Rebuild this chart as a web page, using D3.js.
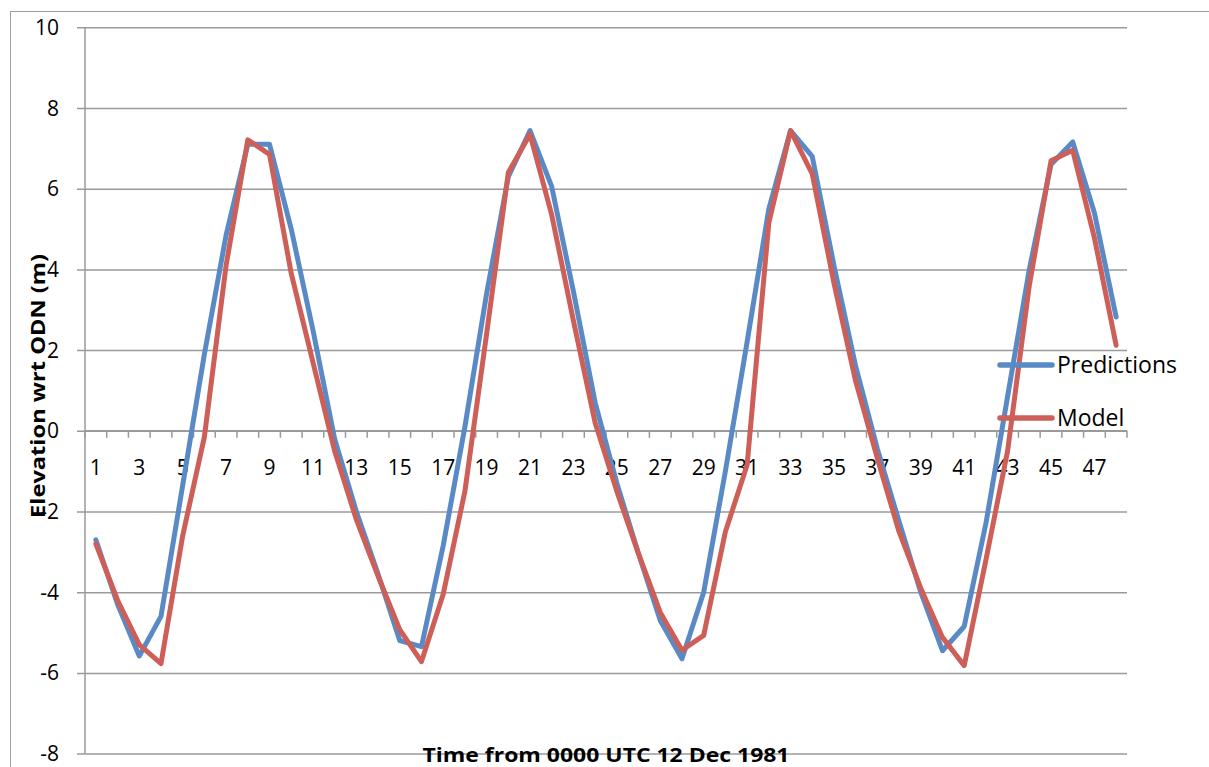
<!DOCTYPE html>
<html>
<head>
<meta charset="utf-8">
<script src="https://cdn.jsdelivr.net/npm/d3@7"></script>
<style>
  html, body { margin: 0; padding: 0; background: #fff; }
  svg { display: block; }
  text { font-family: "Open Sans", "Liberation Sans", sans-serif; fill: #000; }
</style>
</head>
<body>
<svg id="chart" width="1209" height="767"></svg>
<script>
const categories = [1,2,3,4,5,6,7,8,9,10,11,12,13,14,15,16,17,18,19,20,21,22,23,24,
                    25,26,27,28,29,30,31,32,33,34,35,36,37,38,39,40,41,42,43,44,45,46,47,48];
const xTickLabels = [1,3,5,7,9,11,13,15,17,19,21,23,25,27,29,31,33,35,37,39,41,43,45,47];
const yTicks = [-8,-6,-4,-2,0,2,4,6,8,10];
const predictions = [-2.7,-4.3,-5.58,-4.6,-1.35,1.9,4.85,7.1,7.1,5.0,
                     2.5,-0.2,-2.0,-3.55,-5.2,-5.35,-2.85,0.1,3.4,6.3,
                     7.44,6.05,3.45,0.7,-1.3,-3.05,-4.7,-5.65,-4.0,-1.0,
                     2.2,5.5,7.44,6.8,4.1,1.6,-0.45,-2.25,-4.0,-5.45,
                     -4.85,-2.3,0.85,4.0,6.6,7.16,5.4,2.82];
const model = [-2.8,-4.2,-5.3,-5.77,-2.6,-0.15,4.1,7.21,6.85,3.9,
               1.7,-0.5,-2.2,-3.6,-4.93,-5.72,-4.05,-1.5,2.4,6.4,
               7.35,5.35,2.73,0.2,-1.5,-3.05,-4.5,-5.44,-5.07,-2.5,
               -0.85,5.15,7.44,6.37,3.66,1.23,-0.68,-2.5,-3.9,-5.12,
               -5.82,-3.2,-0.5,3.6,6.69,6.95,4.78,2.12];
const seriesNames = ["Predictions", "Model"];
const seriesColors = ["#5a8ac6", "#cd5f58"];

(function () {
const svg = d3.select("#chart");
const pL = 85, pR = 1127, pT = 27.3, pB = 753.6;

const x = d3.scaleBand().domain(categories).range([pL, pR]).padding(0);
const y = d3.scaleLinear().domain([-8, 10]).range([pB, pT]);
const cx = c => x(c) + x.bandwidth() / 2;

// outer frame
svg.append("rect").attr("x", 10.5).attr("y", 11.5).attr("width", 1260).attr("height", 800)
  .attr("fill", "none").attr("stroke", "#a0a0a0").attr("stroke-width", 1);

// horizontal gridlines via axis
const yAxis = d3.axisLeft(y).tickValues(yTicks).tickSize(-(pR - pL)).tickPadding(0).tickFormat("");
const gy = svg.append("g").attr("transform", `translate(${pL},0)`).call(yAxis);
gy.select(".domain").remove();
gy.selectAll(".tick line").attr("stroke", "#9a9a9a").attr("stroke-width", 1.5)
  .attr("x1", -8);

// y tick labels
svg.append("g").selectAll("text").data(yTicks).join("text")
  .attr("x", 59).attr("y", d => y(d)).attr("dy", "0.36em")
  .attr("text-anchor", "end").attr("font-size", 21).text(d => d);

// y axis line
svg.append("line").attr("x1", pL).attr("x2", pL).attr("y1", pT).attr("y2", pB)
  .attr("stroke", "#9a9a9a").attr("stroke-width", 1.5);

// category axis at y=0
const y0 = y(0);
svg.append("line").attr("x1", pL).attr("x2", pR).attr("y1", y0).attr("y2", y0)
  .attr("stroke", "#9a9a9a").attr("stroke-width", 1.5);
const boundaries = categories.map(c => x(c)).concat([pR]);
svg.append("g").selectAll("line").data(boundaries).join("line")
  .attr("x1", d => d).attr("x2", d => d).attr("y1", y0).attr("y2", y0 + 7)
  .attr("stroke", "#9a9a9a").attr("stroke-width", 1.5);
svg.append("g").selectAll("text").data(xTickLabels).join("text")
  .attr("x", d => cx(d)).attr("y", 475).attr("text-anchor", "middle")
  .attr("font-size", 21).text(d => d);

// lines
const line = d3.line().x((d, i) => cx(categories[i])).y(d => y(d));
[predictions, model].forEach((s, k) => {
  svg.append("path").datum(s).attr("d", line)
    .attr("fill", "none").attr("stroke", seriesColors[k]).attr("stroke-width", 5)
    .attr("stroke-linejoin", "round").attr("stroke-linecap", "round");
});

// legend
const legY = [365, 418];
seriesNames.forEach((n, k) => {
  svg.append("line").attr("x1", 1000).attr("x2", 1052).attr("y1", legY[k]).attr("y2", legY[k])
    .attr("stroke", seriesColors[k]).attr("stroke-width", 5.5).attr("stroke-linecap", "round");
  svg.append("text").attr("x", 1057).attr("y", legY[k]).attr("dy", "0.36em")
    .attr("font-size", 23).text(n);
});

// axis titles
svg.append("text").attr("x", (pL + pR) / 2).attr("y", 762)
  .attr("text-anchor", "middle").attr("font-weight", "bold").attr("font-size", 20)
  .attr("textLength", 367).attr("lengthAdjust", "spacingAndGlyphs")
  .text("Time from 0000 UTC 12 Dec 1981");
svg.append("text").attr("transform", "translate(45,386) rotate(-90)")
  .attr("text-anchor", "middle").attr("font-weight", "bold").attr("font-size", 20)
  .attr("textLength", 264).attr("lengthAdjust", "spacingAndGlyphs")
  .text("Elevation wrt ODN (m)");
})();
</script>
</body>
</html>
